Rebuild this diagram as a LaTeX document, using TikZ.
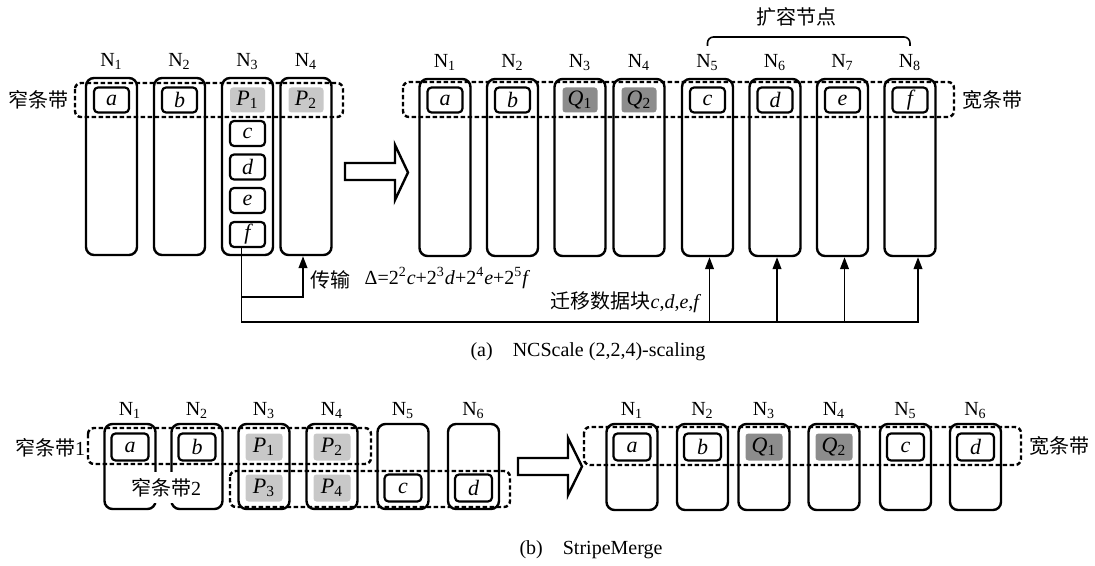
\documentclass[tikz,border=0pt]{standalone}
\usepackage{fontspec}
\setmainfont{Liberation Serif}
\newfontfamily\cjk{Noto Sans CJK SC}
\usetikzlibrary{arrows.meta}
\definecolor{pgray}{RGB}{200,200,200}
\definecolor{qgray}{RGB}{140,140,140}
\newcommand\idx[1]{\textsubscript{\upshape#1}}
\tikzset{
  >={Triangle[length=6pt,width=4.4pt]},
  disk/.style={draw,line width=1.2pt,rounded corners=4pt,minimum width=25.5pt,
    minimum height=#1,inner sep=0pt},
  disk/.default=88.5pt,
  blk/.style={draw,line width=1.1pt,rounded corners=2pt,minimum width=17.5pt,
    minimum height=12.5pt,inner sep=0pt,font=\fontsize{11}{12}\selectfont\itshape},
  pblk/.style={blk,draw=none,fill=#1,rounded corners=1.5pt},
  pblk/.default=pgray,
  big/.style={minimum width=18.5pt,minimum height=13.5pt},
  band/.style={draw,line width=1.2pt,dash pattern=on 2.2pt off 1.3pt,rounded corners=3pt},
  nlab/.style={font=\fontsize{10}{12}\selectfont,anchor=base},
  txt/.style={font=\fontsize{10}{12}\selectfont,inner sep=1pt},
  zh/.style={font=\fontsize{10}{12}\selectfont\cjk,inner sep=1pt},
  link/.style={line width=0.8pt},
  hollow/.style={line width=1.2pt},
}
\begin{document}
\begin{tikzpicture}[x=0.5pt,y=-0.5pt]
  \useasboundingbox (0,0) rectangle (1095,566);
  % (a) narrow stripe on N1..N4
  \foreach \i/\x in {1/111.5,2/179.5,3/247.5,4/306}{
    \node[disk] (a\i) at (\x,166.5) {};
    \node[nlab] (la\i) at ([yshift=5pt]a\i.north) {N\idx{\i}};
  }
  \draw[band] (75,83) rectangle (343,117);
  \node[blk] (aa) at (a1 |- 0,100) {a};
  \node[blk] (ab) at (a2 |- 0,100) {b};
  \node[pblk] (ap1) at (a3 |- 0,100) {P\idx{1}};
  \node[pblk] (ap2) at (a4 |- 0,100) {P\idx{2}};
  \foreach \t/\y in {c/133.5,d/167,e/200.5,f/234.5}
    \node[blk] (a\t) at (a3 |- 0,\y) {\t};
  \node[zh] (narrow) at (39,100) {窄条带};
  \draw[hollow] (345,163) -- (395,163) -- (395,145) -- (408,172.5) -- (395,200)
    -- (395,180) -- (345,180) -- cycle;
  % (a) wide stripe on N1..N8
  \foreach \i/\x in {1/445,2/512.5,3/580,4/639,5/707.5,6/775,7/842.5,8/910}{
    \node[disk] (w\i) at (\x,167.5) {};
    \node[nlab] (lw\i) at ([yshift=5pt]w\i.north) {N\idx{\i}};
  }
  \draw[band] (403,82) rectangle (954,117);
  \foreach \i/\t in {1/a,2/b,5/c,6/d,7/e,8/f}
    \node[blk] (w\t) at (w\i |- 0,100) {\t};
  \node[pblk=qgray] (wq1) at (w3 |- 0,100) {Q\idx{1}};
  \node[pblk=qgray] (wq2) at (w4 |- 0,100) {Q\idx{2}};
  \node[zh] (wide) at (992.5,100) {宽条带};
  \node[zh] (grow) at (796,17) {扩容节点};
  \draw[link,rounded corners=3pt] (w5 |- 0,46) |- (w8 |- 0,37) -- (w8 |- 0,46);
  % transfer and migration
  \coordinate (tr) at ([xshift=-3pt]af.south);
  \draw[link,->] (tr) -- (tr |- 0,322) -| ([xshift=4pt]w8.south);
  \draw[link,->] (tr |- 0,297) -| ([xshift=-1.5pt]a4.south);
  \foreach \i in {5,6,7}
    \draw[link,<-] ([xshift=1pt]w\i.south) -- ++(0,66);
  \node[zh] (send) at (330,280) {传输};
  \node[txt] (delta) at (447.5,278) {Δ=2\textsuperscript{2}\textit{c}+2\textsuperscript{3}\textit{d}+2\textsuperscript{4}\textit{e}+2\textsuperscript{5}\textit{f}};
  \node[zh] (move) at (626,302) {迁移数据块{\rmfamily\textit{c},\textit{d},\textit{e},\textit{f}}};
  \node[txt] (capa) at (588,352) {(a)\quad NCScale (2,2,4)-scaling};
  % (b) two narrow stripes
  \foreach \i/\x in {1/130,2/197,3/264,4/332,5/403,6/473.5}{
    \node[disk=42.5pt] (s\i) at (\x,466.5) {};
    \node[nlab] (ls\i) at ([yshift=3.5pt]s\i.north) {N\idx{\i}};
  }
  \draw[band] (88,428) rectangle (371,464);
  \draw[band] (230,471) rectangle (510,507);
  \node[blk,big] (sa) at (s1 |- 0,447) {a};
  \node[blk,big] (sb) at (s2 |- 0,447) {b};
  \node[pblk,big] (sp1) at (s3 |- 0,447) {P\idx{1}};
  \node[pblk,big] (sp2) at (s4 |- 0,447) {P\idx{2}};
  \node[pblk,big] (sp3) at (s3 |- 0,488) {P\idx{3}};
  \node[pblk,big] (sp4) at (s4 |- 0,488) {P\idx{4}};
  \node[blk,big] (sc) at (s5 |- 0,488) {c};
  \node[blk,big] (sd) at (s6 |- 0,488) {d};
  \node[zh] (narrow1) at (50,448) {窄条带{\rmfamily 1}};
  \node[zh,fill=white,minimum height=15.5pt] (narrow2) at (166,487.5) {窄条带{\rmfamily 2}};
  \draw[hollow] (518,458) -- (568,458) -- (568,438) -- (582,466.5) -- (568,495)
    -- (568,475) -- (518,475) -- cycle;
  % (b) merged wide stripe
  \foreach \i/\x in {1/632,2/702.5,3/764,4/834,5/905.5,6/975.5}{
    \node[disk=43pt] (m\i) at (\x,467) {};
    \node[nlab] (lm\i) at ([yshift=3.5pt]m\i.north) {N\idx{\i}};
  }
  \draw[band] (584,427) rectangle (1021,465);
  \foreach \i/\t in {1/a,2/b,5/c,6/d}
    \node[blk,big] (m\t) at (m\i |- 0,447) {\t};
  \node[pblk=qgray,big] (mq1) at (m3 |- 0,447) {Q\idx{1}};
  \node[pblk=qgray,big] (mq2) at (m4 |- 0,447) {Q\idx{2}};
  \node[zh] (wide2) at (1059.5,446) {宽条带};
  \node[txt] (capb) at (591,550) {(b)\quad StripeMerge};
\end{tikzpicture}
\end{document}
